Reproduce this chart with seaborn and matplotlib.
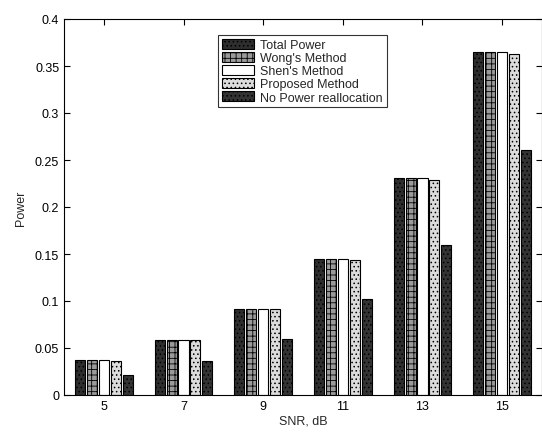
import matplotlib
matplotlib.use("Agg")
import matplotlib.pyplot as plt
import seaborn as sns
import pandas as pd
import numpy as np

snr = ["5", "7", "9", "11", "13", "15"]
total_power = [0.037, 0.058, 0.092, 0.145, 0.231, 0.365]
wong = [0.037, 0.058, 0.092, 0.145, 0.231, 0.365]
shen = [0.037, 0.058, 0.092, 0.145, 0.231, 0.365]
proposed = [0.036, 0.058, 0.092, 0.144, 0.229, 0.363]
no_realloc = [0.0215, 0.036, 0.060, 0.102, 0.160, 0.261]
methods = ["Total Power", "Wong's Method", "Shen's Method", "Proposed Method", "No Power reallocation"]
yticks = [0, 0.05, 0.1, 0.15, 0.2, 0.25, 0.3, 0.35, 0.4]
ytick_labels = ["0", "0.05", "0.1", "0.15", "0.2", "0.25", "0.3", "0.35", "0.4"]

series = [total_power, wong, shen, proposed, no_realloc]
rows = []
for m, vals in zip(methods, series):
    for s, v in zip(snr, vals):
        rows.append({"SNR": s, "Method": m, "Power": v})
df = pd.DataFrame(rows)

sns.set_style("white")
plt.rcParams["font.family"] = ["Liberation Sans", "DejaVu Sans"]
plt.rcParams["hatch.linewidth"] = 0.6

fig = plt.figure(figsize=(5.42, 4.35), dpi=100)
ax = fig.add_axes([64 / 542, 39 / 435, 478 / 542, 376 / 435])

faces = ["#2e2e2e", "#9a9a9a", "#ffffff", "#dcdcdc", "#333333"]
hatches = ["....", "+++", "", "....", "...."]
palette = dict(zip(methods, faces))

sns.barplot(data=df, x="SNR", y="Power", hue="Method", order=snr, hue_order=methods,
            palette=palette, width=0.75, ax=ax, edgecolor="black", linewidth=0.8,
            saturation=1, legend=True)

for container, h in zip(ax.containers, hatches):
    for p in container:
        p.set_hatch(h)
        w = p.get_width()
        newer = w * 0.84
        p.set_x(p.get_x() + (w - newer) / 2)
        p.set_width(newer)

ax.set_xlim(-0.5, 5.5)
ax.set_ylim(0, 0.4)
ax.set_yticks(yticks)
ax.set_yticklabels(ytick_labels)
ax.tick_params(direction="in", length=4, labelsize=9, colors="black",
               left=True, bottom=True, right=True, top=True)
for sp in ax.spines.values():
    sp.set_visible(True)
    sp.set_color("black")
    sp.set_linewidth(0.8)
ax.set_xlabel("SNR, dB", fontsize=9, labelpad=2)
ax.set_ylabel("Power", fontsize=9, labelpad=6)

handles, labels = ax.get_legend_handles_labels()
for hd, h in zip(handles, hatches):
    hd.set_hatch(h)
leg = ax.legend(handles, labels, loc="upper left", bbox_to_anchor=(0.322, 0.958),
                fontsize=9, frameon=True, fancybox=False, edgecolor="black",
                handlelength=2.6, handleheight=0.9, handletextpad=0.5,
                labelspacing=0.05, borderpad=0.3, borderaxespad=0)
leg.get_frame().set_linewidth(0.8)

fig.savefig("out.png", dpi=100)
